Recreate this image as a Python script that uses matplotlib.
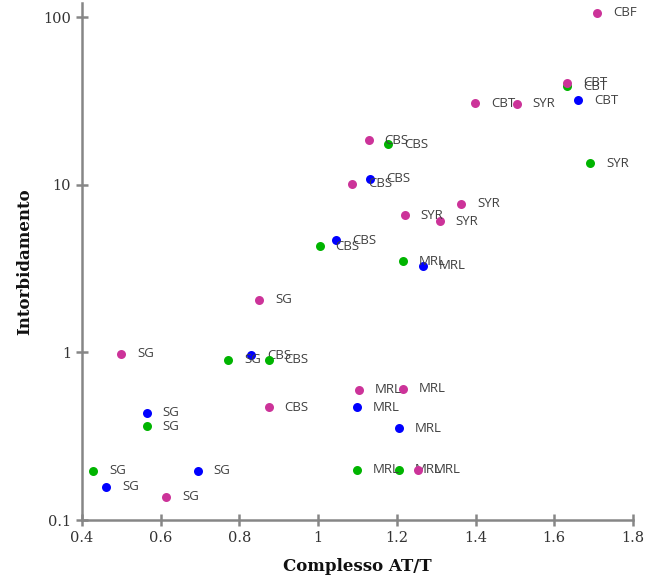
import matplotlib.pyplot as plt
import matplotlib.ticker as mticker

# magenta series
x_mag = [1.708, 1.633, 1.398, 1.505, 1.128, 1.087, 1.364, 1.220, 1.309, 0.850, 0.500, 0.874, 1.104, 1.216, 1.254, 0.614]
y_mag = [107, 40.7, 30.8, 30.6, 18.5, 10.2, 7.74, 6.59, 6.09, 2.07, 0.98, 0.471, 0.598, 0.607, 0.199, 0.138]
lab_mag = ["CBF", "CBT", "CBT", "SYR", "CBS", "CBS", "SYR", "SYR", "SYR", "SG", "SG", "CBS", "MRL", "MRL", "MRL", "SG"]

# green series
x_grn = [1.633, 1.691, 1.177, 1.004, 1.215, 0.772, 0.874, 0.564, 0.429, 1.099, 1.206]
y_grn = [38.9, 13.5, 17.5, 4.32, 3.50, 0.908, 0.908, 0.363, 0.197, 0.199, 0.199]
lab_grn = ["CBT", "SYR", "CBS", "CBS", "MRL", "SG", "CBS", "SG", "SG", "MRL", "MRL"]

# blue series
x_blu = [1.660, 1.133, 1.045, 1.267, 0.830, 0.564, 0.694, 0.462, 1.099, 1.206]
y_blu = [32.1, 10.9, 4.67, 3.30, 0.96, 0.438, 0.197, 0.158, 0.471, 0.353]
lab_blu = ["CBT", "CBS", "CBS", "MRL", "CBS", "SG", "SG", "SG", "MRL", "MRL"]

x_ticks = [0.4, 0.6, 0.8, 1.0, 1.2, 1.4, 1.6, 1.8]
x_ticklabels = ["0.4", "0.6", "0.8", "1", "1.2", "1.4", "1.6", "1.8"]
y_ticks = [0.1, 1, 10, 100]
y_ticklabels = ["0.1", "1", "10", "100"]

fig = plt.figure(figsize=(6.46, 5.81), dpi=100)
ax = fig.add_axes([82 / 646, 1 - 520 / 581, (633 - 82) / 646, (520 - 3) / 581])

series = [
    (x_blu, y_blu, lab_blu, "#0000ff"),
    (x_grn, y_grn, lab_grn, "#00b400"),
    (x_mag, y_mag, lab_mag, "#cc3399"),
]
z = 3
for xs, ys, labs, col in series:
    ax.scatter(xs, ys, s=42, color=col, linewidths=0, zorder=z)
    for xv, yv, lb in zip(xs, ys, labs):
        ax.annotate(lb, (xv, yv), xytext=(11.5, 0), textcoords="offset points",
                    va="center", ha="left", fontsize=9.5, family="Open Sans",
                    color="#404040", zorder=z)
    z += 1

ax.set_yscale("log")
ax.set_xlim(0.4, 1.8)
ax.set_ylim(0.1, 122)
ax.set_xticks(x_ticks)
ax.set_xticklabels(x_ticklabels)
ax.set_yticks(y_ticks)
ax.set_yticklabels(y_ticklabels)
ax.yaxis.set_minor_locator(mticker.NullLocator())

for s in ["top", "right"]:
    ax.spines[s].set_visible(False)
for s in ["left", "bottom"]:
    ax.spines[s].set_color("#868686")
    ax.spines[s].set_linewidth(1.8)

ax.tick_params(direction="inout", length=8, width=1.8, color="#868686",
               labelsize=10.5, labelcolor="#333333", pad=4)
for t in ax.get_xticklabels() + ax.get_yticklabels():
    t.set_family("DejaVu Serif")

ax.set_xlabel("Complesso AT/T", family="DejaVu Serif", fontweight="bold",
              fontsize=12, color="#111111", labelpad=9)
ax.set_ylabel("Intorbidamento", family="DejaVu Serif", fontweight="bold",
              fontsize=12, color="#111111", labelpad=7)

fig.savefig("out.png", dpi=100)
